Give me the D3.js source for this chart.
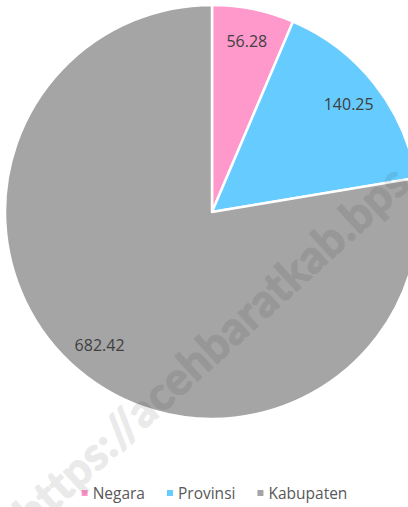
<!DOCTYPE html>
<html>
<head>
<meta charset="utf-8">
<script src="https://cdn.jsdelivr.net/npm/d3@7"></script>
<style>
  html, body { margin: 0; padding: 0; background: #fff; }
  svg { display: block; }
</style>
</head>
<body>
<svg id="chart" width="408" height="507"></svg>
<script>
// Categories and values of the pie
const categories = ["Negara", "Provinsi", "Kabupaten"];
const values = [56.28, 140.25, 682.42];
const valueLabels = ["56.28", "140.25", "682.42"];
const colors = ["#FF99CC", "#66CCFF", "#A5A5A5"];
const watermarkText = "https://acehbaratkab.bps.go.id";

const width = 408, height = 507;
const cx = 212, cy = 212, radius = 207;

const svg = d3.select("#chart");

const data = categories.map((c, i) => ({ name: c, value: values[i], label: valueLabels[i], color: colors[i] }));

const pie = d3.pie().value(d => d.value).sort(null);
const arcs = pie(data);

const arc = d3.arc().innerRadius(0).outerRadius(radius);
const labelArc = d3.arc().innerRadius(174).outerRadius(174);

const g = svg.append("g").attr("transform", `translate(${cx},${cy})`);

g.selectAll("path.slice")
  .data(arcs)
  .join("path")
  .attr("class", "slice")
  .attr("d", arc)
  .attr("fill", d => d.data.color)
  .attr("stroke", "#fff")
  .attr("stroke-width", 2.5)
  .attr("stroke-linejoin", "round");

g.selectAll("text.val")
  .data(arcs)
  .join("text")
  .attr("class", "val")
  .attr("transform", d => `translate(${labelArc.centroid(d)})`)
  .attr("text-anchor", "middle")
  .attr("dy", "0.36em")
  .attr("font-family", "'Open Sans', sans-serif")
  .attr("font-size", 16)
  .attr("fill", "#404040")
  .text(d => d.data.label);

// Legend, centred under the pie
const legend = svg.append("g").attr("font-family", "'Open Sans', sans-serif").attr("font-size", 15.5);
const items = legend.selectAll("g.item").data(data).join("g").attr("class", "item");
items.append("rect").attr("width", 6).attr("height", 6).attr("y", -9).attr("fill", d => d.color);
items.append("text").attr("x", 11).attr("y", 0).attr("fill", "#595959").text(d => d.name);
const gap = 22;
let x = 0;
const widths = [];
items.each(function () { widths.push(this.getBBox().width); });
items.attr("transform", (d, i) => {
  const t = `translate(${x},0)`;
  x += widths[i] + gap;
  return t;
});
const total = x - gap;
legend.attr("transform", `translate(${214.5 - total / 2},499)`);

// Diagonal site watermark: sized so "ehbaratkab" spans ~208px, with "r" centred at (248,315)
const wm = svg.append("g")
  .attr("transform", "translate(248,315) rotate(-42.3)")
  .attr("opacity", 0.08);
const wmText = wm.append("text")
  .attr("font-family", "Lato, sans-serif")
  .attr("font-weight", "bold")
  .attr("fill", "#000")
  .attr("stroke", "#000")
  .attr("stroke-width", 1.4)
  .attr("stroke-linejoin", "round")
  .attr("letter-spacing", 0.5)
  .text(watermarkText);
const mid = i => {
  const e = wmText.node().getExtentOfChar(i);
  return e.x + e.width / 2;
};
let fs = 42;
wmText.attr("font-size", fs);
const span = mid(19) - mid(10);
fs = fs * 208 / span;
wmText.attr("font-size", fs);
wmText.attr("x", -mid(14)).attr("y", fs * 0.33);
</script>
</body>
</html>
